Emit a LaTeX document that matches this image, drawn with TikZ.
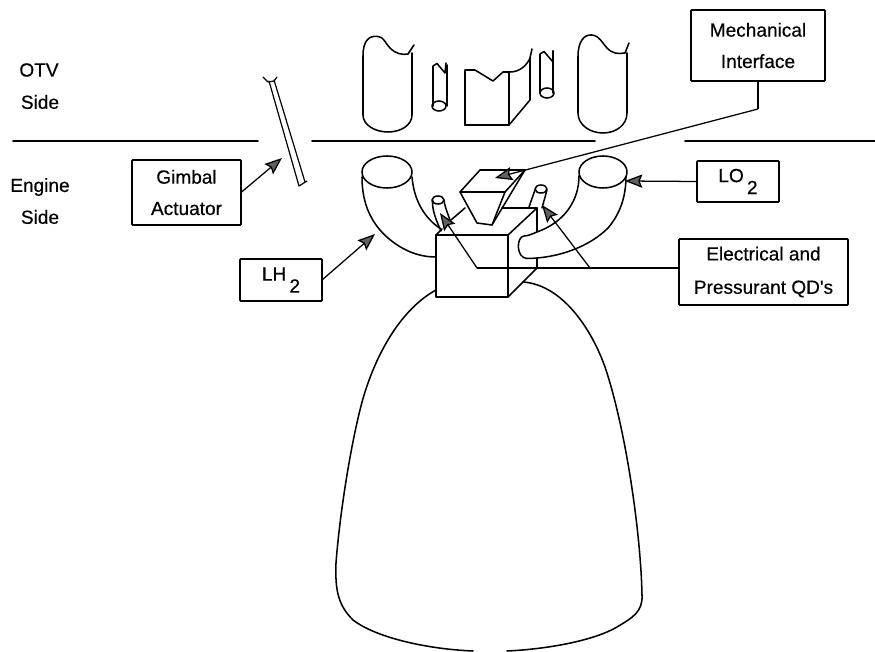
\documentclass[tikz,border=0pt]{standalone}
\usepackage{fontspec}
\setmainfont{Liberation Sans}[FakeBold=0.4]
\newfontfamily\plainquote{Liberation Sans}[FakeBold=0.4]
\usetikzlibrary{arrows.meta,calc}
\tikzset{
  ink/.style={line width=1.15pt,line join=round,line cap=round},
  thinink/.style={line width=.9pt,line join=round,line cap=round},
  labelbox/.style={draw,line width=1.15pt,rounded corners=.6pt,inner sep=0pt,outer sep=0pt,align=center,font=\fontsize{14.3}{23}\selectfont},
  freetext/.style={inner sep=0pt,outer sep=0pt,font=\fontsize{14.3}{23}\selectfont},
  leader/.style={line width=.95pt,-{Stealth[length=13pt,width=10pt,fill=black!62,inset=2pt]}},
  plainleader/.style={line width=.95pt},
  tube/.style={ink,fill=white}
}
\newcommand{\subtwo}{\raisebox{-9pt}{\,2}}
\begin{document}
\begin{tikzpicture}[x=.75pt,y=-.75pt]
\useasboundingbox (0,0) rectangle (875,652);
% interface lines
\draw[ink] (13,141) -- (258,141);
\draw[ink] (312,141) -- (595,141);
\draw[ink] (685,141) -- (875,141);
% side labels
\node[freetext] (otv) at (39,70) {OTV};
\node[freetext] (side1) at (40,102) {Side};
\node[freetext] (eng) at (40,187) {Engine};
\node[freetext] (side2) at (40,217) {Side};
% OTV side tanks
\draw[ink] (414,45) -- (408,54) .. controls (402,55) and (396,54) .. (390,48) .. controls (385,43) and (384,37) .. (378,36.5) .. controls (368,35) and (363,42) .. (363,56) -- (363,115) .. controls (363,125) and (375,132) .. (388,132) .. controls (401,132) and (412,125) .. (412,115) -- (412,53);
\draw[ink] (629,43) -- (625,53) .. controls (618,54) and (613,54) .. (607,48) .. controls (602,43) and (600,36) .. (592,35) .. controls (584,34) and (578,42) .. (578,56) -- (578,113) .. controls (578,125) and (590,133) .. (603,133) .. controls (616,133) and (627,125) .. (627,113) -- (627,53);
% OTV side small lines
\draw[ink] (446,63) -- (445,73) -- (437,63.5) -- (433,66) -- (433,106);
\draw[ink] (447,65) -- (447,106);
\draw[ink] (439,106) ellipse (7 and 5);
\draw[ink] (553,51) -- (553,62) -- (544,51.5) -- (540,54) -- (540,93);
\draw[ink] (553,51) -- (553,93);
\draw[ink] (547,93) ellipse (7 and 5);
% centre block
\draw[ink] (465,125) -- (465,70) -- (475,70) -- (493,81) -- (503,72) -- (510,72) .. controls (520,72) and (527,65) .. (530,58) -- (532,49);
\draw[ink] (465,125) -- (509,125) -- (509,72);
\draw[ink] (509,125) -- (530,100) -- (530,58);
% gimbal actuator rod
\draw[thinink] (269,81) -- (299,186) -- (307,181);
\draw[thinink] (274,80) -- (305,182);
\draw[thinink] (263,77) -- (268,82) -- (274,81) -- (277,77);
% left elbow
\draw[ink] (362,177) .. controls (362,205) and (372,224) .. (388,238) .. controls (402,250) and (418,257) .. (436,257);
\draw[ink] (412,177) .. controls (414,200) and (424,218) .. (441,229);
\draw[ink] (387,172) ellipse (25 and 16);
% engine block
\draw[ink] (436,235) rectangle (508,297);
\draw[ink] (508,235) -- (537,208) -- (502,208);
\draw[ink] (508,297) -- (537,268) -- (537,208);
\draw[ink] (436,235) -- (442,229);
\draw[ink] (451,220) -- (465,208);
% right elbow
\draw[tube] (579,176) .. controls (579,200) and (565,222) .. (537,232) .. controls (532,234) and (528,236) .. (524,236) .. controls (516,237) and (516,258) .. (527,258.5) .. controls (560,258) and (590,246) .. (608,228) .. controls (620,214) and (626,197) .. (626,176) -- cycle;
\draw[tube] (603,172) ellipse (24 and 16);
% small QD cylinders
\draw[ink] (432.5,200) .. controls (432,210) and (436,220) .. (441,231);
\draw[ink] (444,200) .. controls (445,208) and (448,214) .. (450,220);
\draw[ink] (438,200) ellipse (6 and 4);
\draw[ink] (535,190) -- (529,207);
\draw[ink] (547,190) -- (542,208);
\draw[ink] (541,189) ellipse (6 and 4);
% mechanical interface
\draw[ink] (460,192) -- (480,170) -- (525,170) -- (505,192) -- cycle;
\draw[ink] (460,192) -- (477,223) -- (492,225) -- (505,192);
\draw[ink] (492,225) -- (525,170);
% nozzle bell
\draw[ink] (436,290) .. controls (405,307) and (380,345) .. (365,392) .. controls (353,430) and (340,510) .. (336,563) .. controls (335,590) and (338,605) .. (353,620) .. controls (375,637) and (425,649) .. (473,651);
\draw[ink] (507,651) .. controls (550,649) and (595,640) .. (617,627) .. controls (632,618) and (643,612) .. (642,595) .. controls (641,540) and (628,440) .. (607,373) .. controls (595,335) and (565,285) .. (523,282);
% label boxes
\node[labelbox,minimum width=134*.75pt,minimum height=71*.75pt] (mech) at (758,45.5) {Mechanical\\[.5pt]Interface};
\node[labelbox,minimum width=109*.75pt,minimum height=65*.75pt] (gimbal) at (186.5,192.5) {Gimbal\\[.5pt]Actuator};
\node[labelbox,minimum width=82*.75pt,minimum height=42*.75pt] (lh) at (281,280) {LH\subtwo};
\node[labelbox,minimum width=82*.75pt,minimum height=41*.75pt] (lox) at (738,181.5) {LO\subtwo};
\node[labelbox,minimum width=169*.75pt,minimum height=66*.75pt] (qd) at (763.5,272) {Electrical and\\[2pt]Pressurant QD{\plainquote '}s};
% leader end points
\coordinate (gimbaltip) at (282,158);
\coordinate (lhtip) at (375,234);
\coordinate (loxtip) at (625,181);
\coordinate (mechbend) at (758,109);
\coordinate (mechtip) at (495,178);
\coordinate (qdbendA) at (590,268);
\coordinate (qdbendB) at (477,268);
\coordinate (qdtipA) at (542,205);
\coordinate (qdtipB) at (440,213);
\coordinate (qdport) at (qd.west |- qdbendA);
% leaders
\draw[leader] (gimbal.east) -- (gimbaltip);
\draw[leader] (lh.east) -- (lhtip);
\draw[leader] (lox.west) -- (loxtip);
\draw[plainleader] (mech.south) -- (mechbend);
\draw[leader] (mechbend) -- (mechtip);
\draw[plainleader] (qdport) -- (qdbendB);
\draw[leader] (qdbendA) -- (qdtipA);
\draw[leader] (qdbendB) -- (qdtipB);
\end{tikzpicture}
\end{document}
